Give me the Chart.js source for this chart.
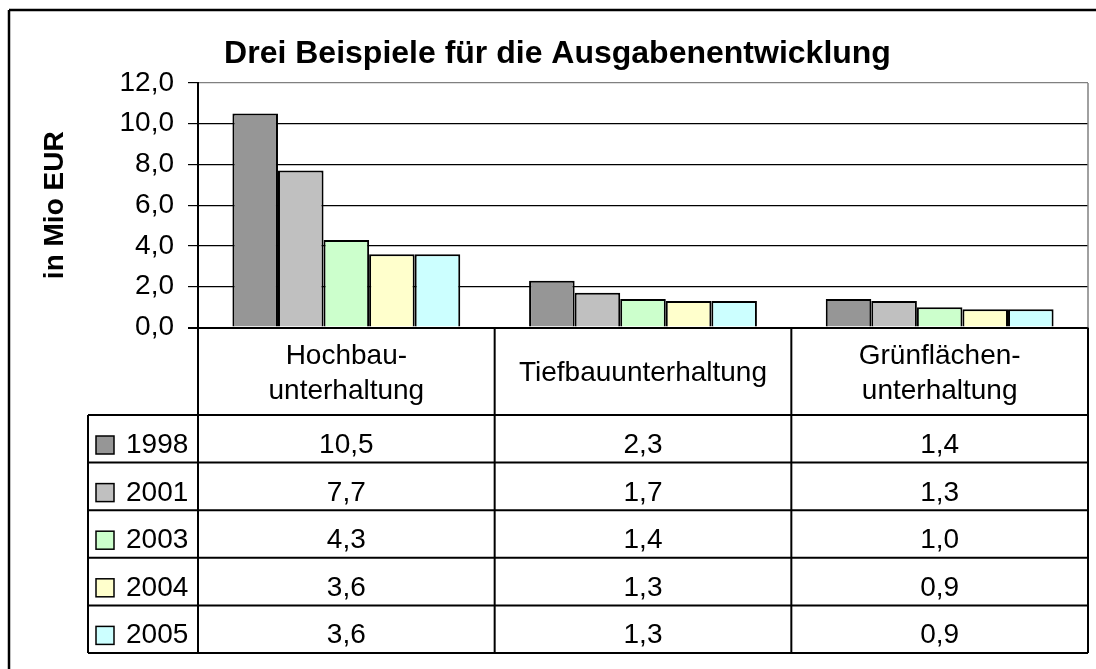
<!DOCTYPE html>
<html>
<head>
<meta charset="utf-8">
<script src="https://cdn.jsdelivr.net/npm/chart.js@4/dist/chart.umd.min.js"></script>
<style>
  html, body { margin: 0; padding: 0; background: #fff; }
  canvas { display: block; }
</style>
</head>
<body>
<canvas id="myChart" width="1096" height="669"></canvas>
<script>
// Daten
const categories = [['Hochbau-', 'unterhaltung'], ['Tiefbauunterhaltung'], ['Grünflächen-', 'unterhaltung']];
const years = ['1998', '2001', '2003', '2004', '2005'];
const values1998 = [10.5, 2.3, 1.4];
const values2001 = [7.7, 1.7, 1.3];
const values2003 = [4.3, 1.4, 1.0];
const values2004 = [3.6, 1.3, 0.9];
const values2005 = [3.6, 1.3, 0.9];
const yTicks = [0, 2, 4, 6, 8, 10, 12];
const seriesValues = [values1998, values2001, values2003, values2004, values2005];
const colors = ['#969696', '#C0C0C0', '#CCFFCC', '#FFFFCC', '#CCFFFF'];

const FONT = '"Liberation Sans", Arial, sans-serif';
const fmt = v => v.toFixed(1).replace('.', ',');

// Datentabelle unter dem Diagramm
const tablePlugin = {
    id: 'dataTable',
    afterDraw(chart) {
        const ctx = chart.ctx;
        const x = chart.scales.x;
        const area = chart.chartArea;
        const half = (x.getPixelForValue(1) - x.getPixelForValue(0)) / 2;
        const top = area.bottom;
        const headBottom = 415;
        const rowH = 47.6;
        const legendLeft = 88;
        const bottom = headBottom + rowH * years.length;

        const line = (x1, y1, x2, y2) => {
            ctx.beginPath();
            ctx.moveTo(x1, y1);
            ctx.lineTo(x2, y2);
            ctx.stroke();
        };

        ctx.save();
        // rechter Rand der Zeichnungsfläche
        ctx.strokeStyle = '#808080';
        ctx.lineWidth = 1.5;
        line(area.right, area.top, area.right, area.bottom);

        // Tabellenlinien
        ctx.strokeStyle = '#000';
        ctx.lineWidth = 2;
        for (let i = 0; i <= categories.length; i++) {
            const xb = x.getPixelForValue(i) - half;
            line(xb, top, xb, bottom);
        }
        for (let r = 0; r <= years.length; r++) {
            const yb = headBottom + r * rowH;
            line(legendLeft, yb, area.right, yb);
        }
        line(legendLeft, headBottom, legendLeft, bottom);

        // Kategorien
        ctx.fillStyle = '#000';
        ctx.font = '28px ' + FONT;
        ctx.textAlign = 'center';
        ctx.textBaseline = 'alphabetic';
        categories.forEach((lines, i) => {
            const cx = x.getPixelForValue(i);
            const cy = (top + headBottom) / 2;
            const start = cy - (lines.length - 1) * 35 / 2 + 10;
            lines.forEach((t, k) => ctx.fillText(t, cx, start + k * 35));
        });

        // Zeilen
        years.forEach((year, r) => {
            const rowTop = headBottom + r * rowH;
            ctx.fillStyle = colors[r];
            ctx.fillRect(96, rowTop + 21, 18, 18);
            ctx.lineWidth = 1.5;
            ctx.strokeStyle = '#000';
            ctx.strokeRect(96, rowTop + 21, 18, 18);
            ctx.fillStyle = '#000';
            ctx.textAlign = 'left';
            ctx.fillText(year, 126, rowTop + 38);
            ctx.textAlign = 'center';
            seriesValues[r].forEach((v, i) => {
                ctx.fillText(fmt(v), x.getPixelForValue(i), rowTop + 38);
            });
        });

        // Rahmen des Diagrammbereichs
        ctx.lineWidth = 2.5;
        line(9, 10, 1096, 10);
        line(9, 10, 9, 669);
        ctx.restore();
    }
};

const ctx = document.getElementById('myChart').getContext('2d');
const chart = new Chart(ctx, {
    type: 'bar',
    data: {
        labels: categories,
        datasets: years.map((year, i) => ({
            label: year,
            data: seriesValues[i],
            backgroundColor: colors[i],
            borderColor: '#000',
            borderWidth: 2,
            barPercentage: 1,
            categoryPercentage: 0.768
        }))
    },
    options: {
        responsive: false,
        animation: false,
        layout: {
            padding: { left: 27, right: 8, top: 0, bottom: 341.5 }
        },
        plugins: {
            legend: { display: false },
            tooltip: { enabled: false },
            title: {
                display: true,
                text: 'Drei Beispiele für die Ausgabenentwicklung',
                color: '#000',
                font: { family: FONT, size: 32, weight: 'bold' },
                padding: { top: 35, bottom: 9.6 }
            }
        },
        scales: {
            x: {
                display: false
            },
            y: {
                min: 0,
                max: 12,
                afterBuildTicks: s => { s.ticks = yTicks.map(v => ({ value: v })); },
                afterFit: s => { s.width = 198 - 27; },
                ticks: {
                    color: '#000',
                    padding: 14,
                    font: { family: FONT, size: 28 },
                    callback: v => fmt(v)
                },
                grid: {
                    color: c => (c.tick && c.tick.value === 12 ? '#808080' : '#000'),
                    lineWidth: c => (c.tick && c.tick.value === 0 ? 2 : 1.2),
                    tickColor: '#000',
                    tickLength: 10
                },
                border: { color: '#000', width: 2 },
                title: {
                    display: true,
                    text: 'in Mio EUR',
                    color: '#000',
                    font: { family: FONT, size: 28, weight: 'bold' },
                    padding: { top: 11, bottom: 0 }
                }
            }
        }
    },
    plugins: [tablePlugin]
});
</script>
</body>
</html>
